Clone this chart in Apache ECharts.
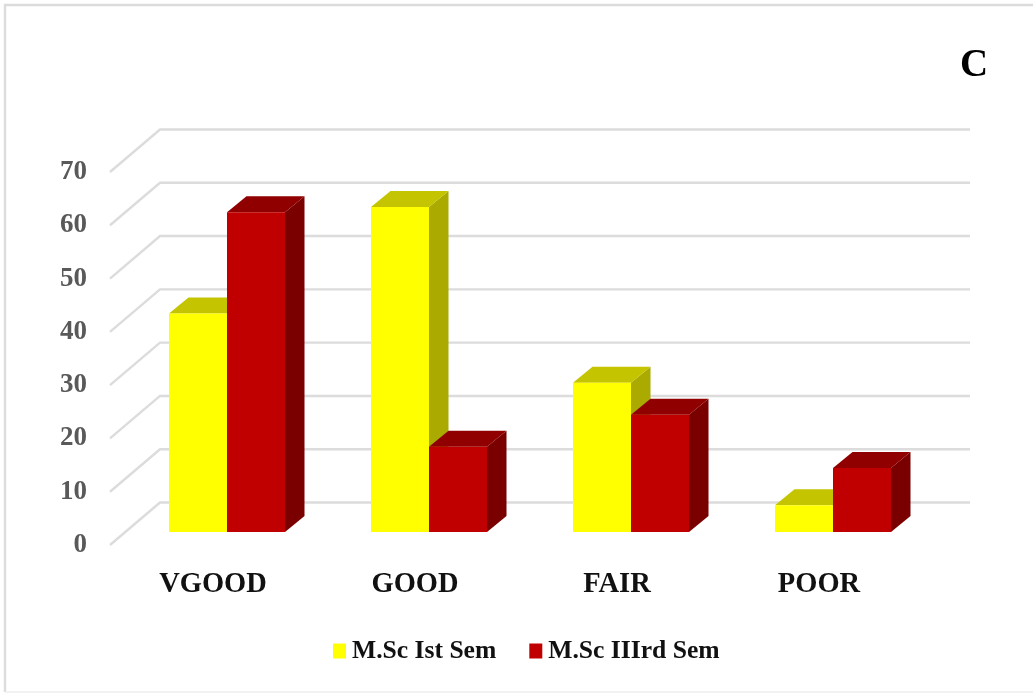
<!DOCTYPE html>
<html><head><meta charset="utf-8">
<style>html,body{margin:0;padding:0;background:#fff}#c{width:1033px;height:693px}</style>
<script src="https://cdn.jsdelivr.net/npm/echarts@6/dist/echarts.min.js"></script>
</head><body><div id="c"></div>
<script>
const categories = ['VGOOD', 'GOOD', 'FAIR', 'POOR'];
const sem1Name = 'M.Sc Ist Sem';
const sem3Name = 'M.Sc IIIrd Sem';
const sem1Values = [41, 61, 28, 5];
const sem3Values = [60, 16, 22, 12];
const gridTicks = [0, 10, 20, 30, 40, 50, 60, 70];

const serif = '"Liberation Serif","Times New Roman",serif';
const lineColor = '#dcdcdc';
const chart = echarts.init(document.getElementById('c'), null, {renderer: 'canvas'});

function wallItem(params, api) {
  const y = api.coord([0, api.value(0)])[1];
  const x0 = params.coordSys.x - 2;
  return {type: 'polyline', silent: true,
    shape: {points: [[x0, y], [x0 + 50, y - 42.5], [970, y - 42.5]]},
    style: {stroke: lineColor, lineWidth: 2.4, fill: null}};
}
function barItem(side, front, top, sideCol) {
  return function (params, api) {
    const p = api.coord([api.value(0), api.value(1)]);
    const b = api.coord([api.value(0), 0]);
    const w = 58, dx = 19.5, dy = 16, ox = 14, oy = 13;
    const cx = p[0] + ox;
    const xl = side === 0 ? cx - w : cx, xr = xl + w;
    const yt = p[1] - oy, yb = b[1] - oy;
    return {type: 'group', children: [
      {type: 'polygon', shape: {points: [[xr, yt], [xr + dx, yt - dy], [xr + dx, yb - dy], [xr, yb]]}, style: {fill: sideCol}},
      {type: 'polygon', shape: {points: [[xl, yt], [xl + dx, yt - dy], [xr + dx, yt - dy], [xr, yt]]}, style: {fill: top}},
      {type: 'rect', shape: {x: xl, y: yt, width: w, height: yb - yt}, style: {fill: front}}
    ]};
  };
}

chart.setOption({
  animation: false,
  backgroundColor: '#ffffff',
  title: {text: 'C', left: 960, top: 46, padding: 0,
    textStyle: {fontFamily: serif, fontWeight: 'bold', fontSize: 39, color: '#000'}},
  grid: {left: 112, top: 172, width: 808, height: 373, containLabel: false},
  xAxis: {type: 'category', data: categories,
    axisLine: {show: false}, axisTick: {show: false}, splitLine: {show: false},
    axisLabel: {margin: 25, fontFamily: serif, fontWeight: 'bold', fontSize: 28.5, color: '#111'}},
  yAxis: {type: 'value', min: 0, max: 70, interval: 10,
    axisLine: {show: false}, axisTick: {show: false}, splitLine: {show: false},
    axisLabel: {margin: 25, fontFamily: serif, fontWeight: 'bold', fontSize: 27, color: '#595959'}},
  legend: {left: 333, top: 638, padding: 0, itemWidth: 13, itemHeight: 15, itemGap: 33, itemStyle: {borderWidth: 0},
    textStyle: {fontFamily: serif, fontWeight: 'bold', fontSize: 25.6, color: '#111', padding: [0, 0, 0, 1]},
    data: [{name: sem1Name, icon: 'rect'}, {name: sem3Name, icon: 'rect'}]},
  graphic: [
    {type: 'polyline', silent: true,
      shape: {points: [[1040, 5], [5, 5], [5, 692]]},
      style: {stroke: '#dcdcdc', lineWidth: 2.4, fill: null}},
    {type: 'line', silent: true,
      shape: {x1: 5, y1: 692, x2: 1040, y2: 692},
      style: {stroke: '#eeeeee', lineWidth: 1.5}}
  ],
  series: [
    {type: 'custom', name: 'wall', coordinateSystem: 'cartesian2d', renderItem: wallItem, z: 1,
      encode: {y: 0}, data: gridTicks.map(v => [v])},
    {type: 'custom', name: sem1Name, coordinateSystem: 'cartesian2d', z: 2,
      itemStyle: {color: '#ffff00'},
      renderItem: barItem(0, '#ffff00', '#c4c400', '#aaaa00'),
      encode: {x: 0, y: 1}, data: sem1Values.map((v, i) => [i, v])},
    {type: 'custom', name: sem3Name, coordinateSystem: 'cartesian2d', z: 3,
      itemStyle: {color: '#c00000'},
      renderItem: barItem(1, '#c00000', '#900000', '#7a0000'),
      encode: {x: 0, y: 1}, data: sem3Values.map((v, i) => [i, v])}
  ]
});
</script></body></html>
